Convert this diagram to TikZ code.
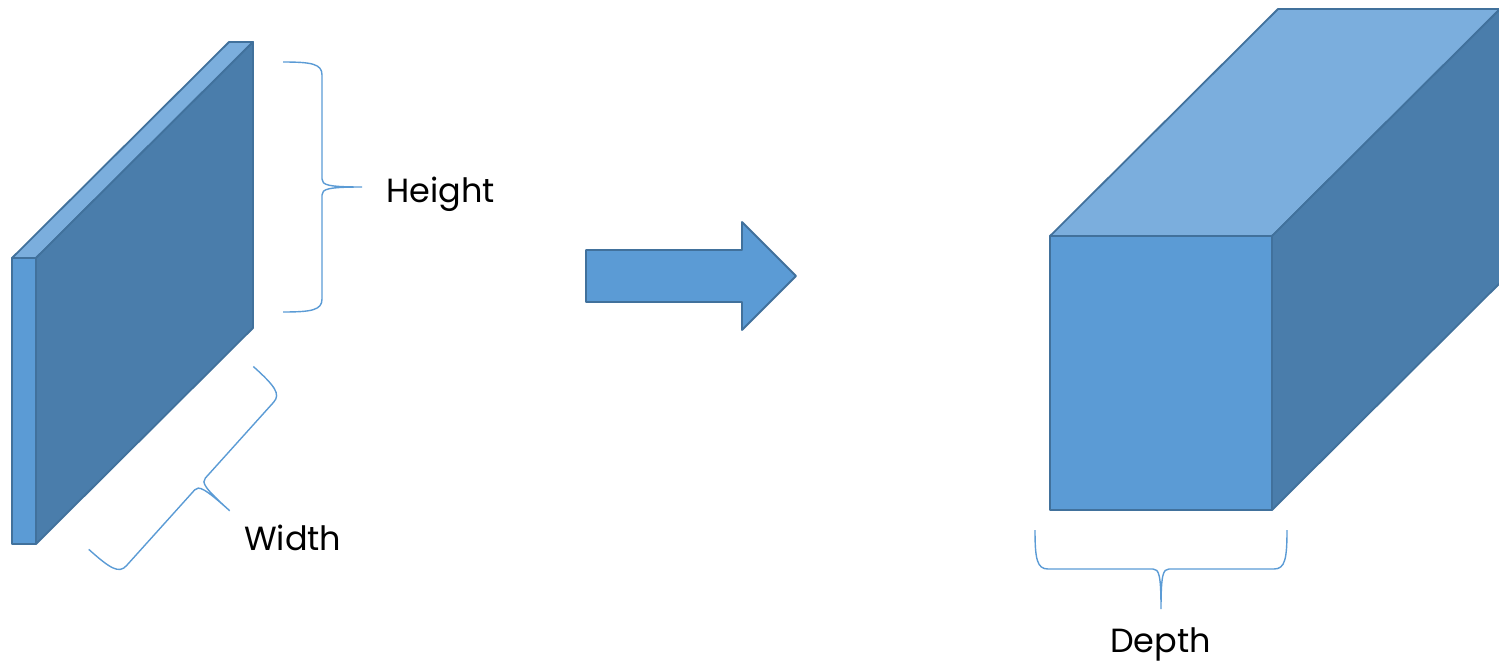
\documentclass[tikz,border=0pt]{standalone}
\usepackage{fontspec}
\setmainfont{Poppins}
\definecolor{faceFront}{HTML}{5B9BD5}
\definecolor{faceTop}{HTML}{7BAEDD}
\definecolor{faceSide}{HTML}{4A7DAB}
\definecolor{edgeBlue}{HTML}{41719C}
\definecolor{braceBlue}{HTML}{5B9BD5}
\tikzset{
  facestyle/.style={draw=edgeBlue, line width=1.8pt, line join=round},
  bracestyle/.style={draw=braceBlue, line width=1.4pt},
  dimlabel/.style={font=\fontsize{33.5}{38}\selectfont, text=black, inner sep=0pt, anchor=base west},
  % curly brace: spine on the local y axis, tip pointing along local +x
  pics/curlybrace/.style={code={
    \draw[bracestyle]
      (-39,#1) .. controls (-10,#1) and (0,#1-2) .. (0,#1-13)
      -- (0,8) .. controls (0,2) and (6,0) .. (40,0)
      .. controls (6,0) and (0,-2) .. (0,-8)
      -- (0,-#1+13) .. controls (0,-#1+2) and (-10,-#1) .. (-39,-#1);
  }}
}
\begin{document}
\begin{tikzpicture}[x=1pt, y=-1pt]
\useasboundingbox (0,0) rectangle (1499,661);

% thin slab
\coordinate (sA) at (12,258);  \coordinate (sB) at (36,258);
\coordinate (sC) at (36,544);  \coordinate (sD) at (12,544);
\coordinate (sE) at (229,42);  \coordinate (sF) at (253,42);
\coordinate (sG) at (253,328);
\fill[faceFront, facestyle] (sA) -- (sB) -- (sC) -- (sD) -- cycle;
\fill[faceTop, facestyle] (sA) -- (sE) -- (sF) -- (sB) -- cycle;
\fill[faceSide, facestyle] (sB) -- (sF) -- (sG) -- (sC) -- cycle;

% block arrow
\fill[faceFront, facestyle] (586,250) -- (742,250) -- (742,222) -- (796,276)
  -- (742,330) -- (742,302) -- (586,302) -- cycle;

% deep box
\coordinate (bA) at (1050,236);  \coordinate (bB) at (1272,236);
\coordinate (bC) at (1272,510);  \coordinate (bD) at (1050,510);
\coordinate (bE) at (1278,9);    \coordinate (bF) at (1500,9);
\coordinate (bG) at (1500,283);
\fill[faceFront, facestyle] (bA) -- (bB) -- (bC) -- (bD) -- cycle;
\fill[faceTop, facestyle] (bA) -- (bE) -- (bF) -- (bB) -- cycle;
\fill[faceSide, facestyle] (bB) -- (bF) -- (bG) -- (bC) -- cycle;

% dimension braces
\pic at (322,187) {curlybrace=125};
\pic[rotate=-42] at (200,484) {curlybrace=123};
\pic[rotate=-90] at (1161,569) {curlybrace=126};

% labels
\node[dimlabel] (hgt) at (386,202) {Height};
\node[dimlabel] (wid) at (244,550) {Width};
\node[dimlabel] (dep) at (1110,652) {Depth};
\end{tikzpicture}
\end{document}
